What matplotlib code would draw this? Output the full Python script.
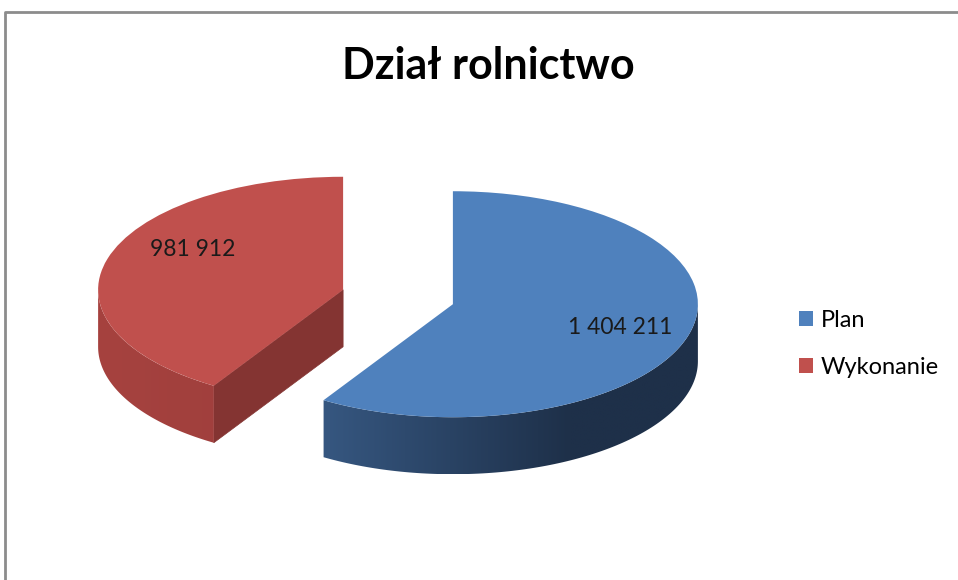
import numpy as np
import matplotlib
matplotlib.use("Agg")
import matplotlib.pyplot as plt
from matplotlib.patches import Polygon
from matplotlib.lines import Line2D
from matplotlib.colors import LinearSegmentedColormap

plt.rcParams['font.family'] = ['Lato', 'DejaVu Sans']

title = "Dział rolnictwo"
categories = ["Plan", "Wykonanie"]
values = [1404211, 981912]
value_labels = ["1 404 211", "981 912"]
top_colors = ["#4f81bd", "#c0504d"]
side_colors = [("#41699a", "#1e3049"), ("#a6423f", "#963b39")]
face_colors = ["#1e3049", "#843432"]

W, H = 958, 580
RX, RY = 245.0, 113.0          # ellipse radii in pixels
CX, CY = 398.0, 297.0          # pie centre in pixels (from top-left)
DEPTH = 57.0 / RY              # extrusion depth in data units

fig = plt.figure(figsize=(W / 100, H / 100), dpi=100)
ax = fig.add_axes([0, 0, 1, 1])

wedges, _ = ax.pie(values, startangle=90, counterclock=False,
                   explode=[0.233, 0.233], colors=top_colors,
                   wedgeprops=dict(linewidth=0))


def band_points(cx, cy, t0, t1):
    t = np.radians(np.linspace(t0, t1, 120))
    top = np.column_stack([cx + np.cos(t), cy + np.sin(t)])
    bot = np.column_stack([cx + np.cos(t[::-1]), cy + np.sin(t[::-1]) - DEPTH])
    return np.vstack([top, bot])


for i, w in enumerate(wedges):
    w.set_zorder(5)
    cx, cy = w.center
    th1, th2 = w.theta1, w.theta2

    # radial cut faces that turn towards the viewer
    for a, sign in ((th1, 1), (th2, -1)):
        c = np.cos(np.radians(a))
        visible = (sign == 1 and c > 1e-6) or (sign == -1 and c < -1e-6)
        if not visible:
            continue
        ox, oy = cx + np.cos(np.radians(a)), cy + np.sin(np.radians(a))
        face = Polygon([(cx, cy), (ox, oy), (ox, oy - DEPTH), (cx, cy - DEPTH)],
                       closed=True, facecolor=face_colors[i], edgecolor=face_colors[i],
                       linewidth=0.5, zorder=2)
        ax.add_patch(face)

    # outer rim, front half only, with a left-to-right shade
    cmap = LinearSegmentedColormap.from_list("side%d" % i, list(side_colors[i]))
    for k in (-1, 0, 1):
        lo, hi = max(th1, -180 + 360 * k), min(th2, 0 + 360 * k)
        if hi - lo <= 0.01:
            continue
        band = Polygon(band_points(cx, cy, lo, hi), closed=True,
                       facecolor="none", edgecolor="none", zorder=1)
        ax.add_patch(band)
        grad = np.clip(np.linspace(0, 1.35, 256), 0, 1).reshape(1, -1)
        im = ax.imshow(grad, cmap=cmap, aspect="auto", zorder=3,
                       extent=[cx - 1, cx + 1, cy - 1 - DEPTH, cy + 0.05],
                       interpolation="bilinear")
        im.set_clip_path(band)

# value labels on the top faces
label_r = [0.71, 0.64]
label_dy = [-0.01, 0.18]
for i, w in enumerate(wedges):
    cx, cy = w.center
    m = np.radians((w.theta1 + w.theta2) / 2)
    ax.text(cx + label_r[i] * np.cos(m), cy + label_r[i] * np.sin(m) + label_dy[i],
            value_labels[i], ha="center", va="center", fontsize=16.5,
            color="#1a1a1a", zorder=10)

ax.set_aspect("auto")
ax.set_xlim(-CX / RX, (W - CX) / RX)
ax.set_ylim(-(H - CY) / RY, CY / RY)
ax.axis("off")

fig.text(488 / W, 1 - 66 / H, title, ha="center", va="center",
         fontsize=31, fontweight="bold", color="#000000")

fig.legend(wedges, categories, loc="center left",
           bbox_to_anchor=(778 / W, 1 - 344 / H), frameon=False,
           fontsize=17, handlelength=0.6, handleheight=0.6,
           handletextpad=0.3, labelspacing=1.12)

fig.add_artist(Line2D([5 / W, 5 / W, 1], [0, 1 - 12 / H, 1 - 12 / H],
                      transform=fig.transFigure, color="#8c8c8c", linewidth=2))

fig.savefig("out.png", dpi=100, facecolor="white")
